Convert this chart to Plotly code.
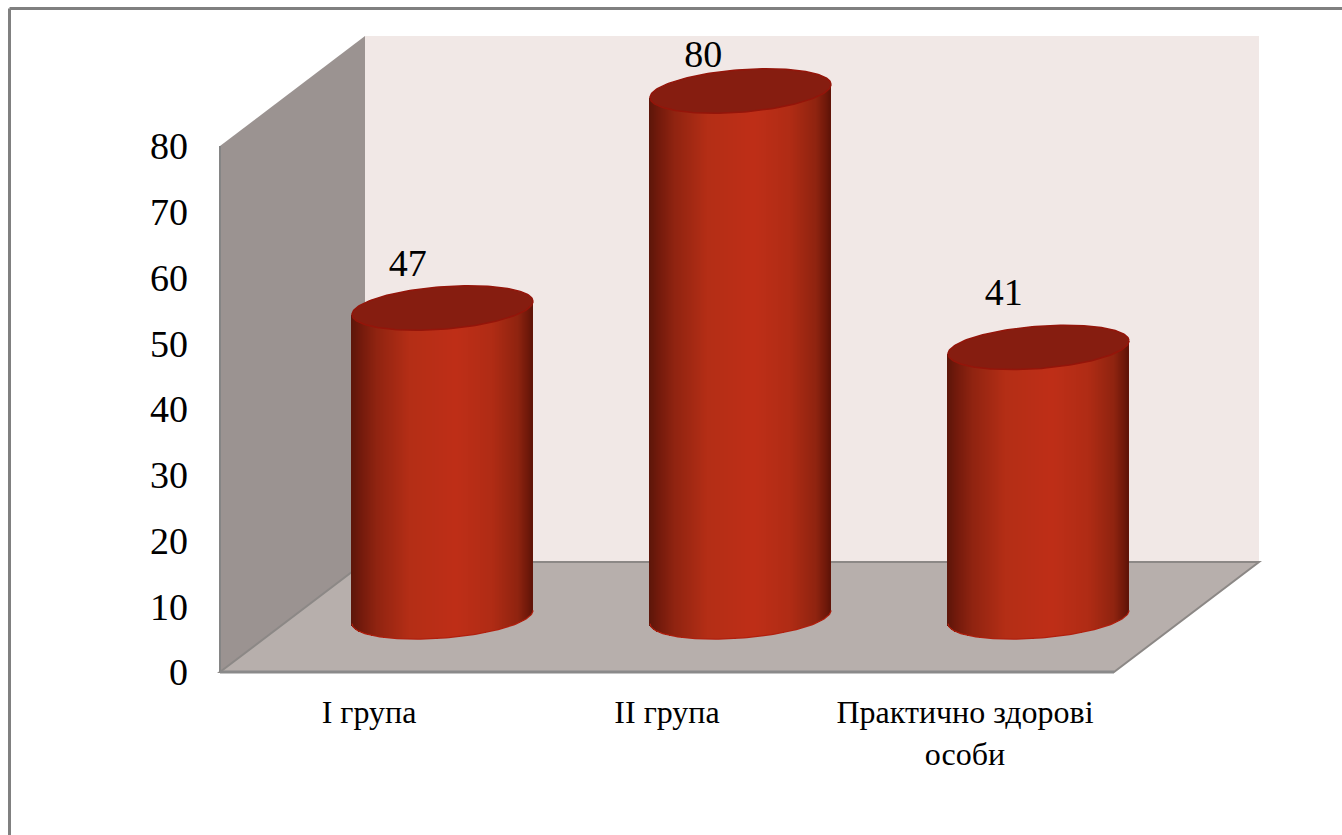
import numpy as np
import plotly.graph_objects as go

categories = ["I група", "II група", "Практично здорові<br>особи"]
values = [47, 80, 41]
y_ticks = [0, 10, 20, 30, 40, 50, 60, 70, 80]

# label placement (offsets relative to the bar value, axis units)
label_rise = [14.6, 13.5, 16.3]
label_shift = [0.13, 0.122, 0.13]

SERIF = "Liberation Serif, Times New Roman, serif"
W, H = 1342, 835
PX_X = 298.0    # pixels per category
PX_Y = 6.575    # pixels per value unit
L, B = 217, 150
XMIN = -3 / PX_X
YMIN = -13 / PX_Y
YMAX = YMIN + (H - B) / PX_Y
XMAX = XMIN + (W - L) / PX_X
DX, DY = 145 / PX_X, 110 / PX_Y   # oblique depth of the box
A = 90.5 / PX_X      # cylinder half width
BB = 21.2 / PX_Y     # ellipse half height
TILT = 6.6 / PX_Y    # rise of the ellipse across its half width
NUDGE = 1 / PX_X

fig = go.Figure()


def poly(xs, ys):
    return "M" + " L".join(f"{x:.5f},{y:.4f}" for x, y in zip(xs, ys)) + " Z"


ytop = y_ticks[-1]
n = len(categories)
fx0 = (9.5 - L) / (W - L)
fy = (H - B - 8.5) / (H - B)
shapes = [
    dict(type="path", xref="x", yref="y", layer="below", line=dict(width=0), fillcolor="#f1e8e6",
         path=poly([DX, n + DX, n + DX, DX], [DY, DY, ytop + DY, ytop + DY])),
    dict(type="path", xref="x", yref="y", layer="below", line=dict(width=0), fillcolor="#9b9391",
         path=poly([0, DX, DX, 0], [0, DY, ytop + DY, ytop])),
    dict(type="path", xref="x", yref="y", layer="below", line=dict(width=2, color="#8c8886"), fillcolor="#b7afac",
         path=poly([0, n, n + DX, DX], [0, 0, DY, DY])),
    dict(type="line", xref="x", yref="y", layer="below", x0=0, x1=0, y0=0, y1=ytop,
         line=dict(width=2, color="#858585")),
    dict(type="line", xref="x", yref="y", layer="below", x0=0, x1=n, y0=0, y1=0,
         line=dict(width=3, color="#8a8a8a")),
    # page frame: only the top and left rules exist
    dict(type="line", xref="paper", yref="paper", x0=fx0, x1=1, y0=fy, y1=fy,
         line=dict(width=3, color="#808080")),
    dict(type="line", xref="paper", yref="paper", x0=fx0, x1=fx0, y0=fy, y1=-B / (H - B),
         line=dict(width=3, color="#808080")),
]

# cylinder bodies: narrow bars carrying the horizontal shading
stops = np.array([0.0, 0.05, 0.14, 0.32, 0.58, 0.78, 0.92, 0.975, 1.0])
reds = np.array([0x5c, 0x72, 0x90, 0xb4, 0xbf, 0xb0, 0x90, 0x72, 0x60])
greens = np.array([0x16, 0x1a, 0x24, 0x2e, 0x2f, 0x2c, 0x24, 0x1a, 0x14])
blues = np.array([0x0a, 0x0c, 0x11, 0x16, 0x18, 0x15, 0x10, 0x0b, 0x08])

strip = 1 / PX_X
bx, bbase, bh, bc = [], [], [], []
for i, v in enumerate(values):
    cx = i + 0.5 + DX / 2 + NUDGE
    offs = np.arange(-A + strip / 2, A, strip)
    for d in offs:
        u = d / A
        s = np.sqrt(max(0.0, 1 - u * u))
        bot = DY / 2 + TILT * u - BB * s
        top = DY / 2 + v + TILT * u
        t = (u + 1) / 2
        c = (int(np.interp(t, stops, reds)), int(np.interp(t, stops, greens)), int(np.interp(t, stops, blues)))
        bx.append(cx + d)
        bbase.append(bot)
        bh.append(top - bot)
        bc.append("rgb(%d,%d,%d)" % c)

fig.add_trace(go.Bar(x=bx, y=bh, base=bbase, width=strip * 1.25,
                     marker=dict(color=bc, line=dict(width=0)),
                     hoverinfo="skip", showlegend=False))

# ellipses: top cap and lower rim
theta = np.linspace(0, 2 * np.pi, 181)
half = np.linspace(np.pi, 2 * np.pi, 91)
for i, v in enumerate(values):
    cx = i + 0.5 + DX / 2 + NUDGE
    fig.add_trace(go.Scatter(
        x=cx + A * np.cos(theta),
        y=DY / 2 + v + TILT * np.cos(theta) + BB * np.sin(theta),
        mode="lines", fill="toself", fillcolor="#861d10",
        line=dict(color="#94150a", width=1.5), hoverinfo="skip", showlegend=False))
    fig.add_trace(go.Scatter(
        x=cx + A * np.cos(half),
        y=DY / 2 + TILT * np.cos(half) + BB * np.sin(half),
        mode="lines", line=dict(color="#b0200f", width=1.2), hoverinfo="skip", showlegend=False))

# data labels
fig.add_trace(go.Scatter(
    x=[i + s + 0.5 for i, s in enumerate(label_shift)],
    y=[v + r for v, r in zip(values, label_rise)],
    text=[str(v) for v in values], mode="text", textposition="middle center",
    textfont=dict(family=SERIF, size=38, color="#000000"),
    hoverinfo="skip", showlegend=False))

fig.update_layout(
    width=W, height=H, margin=dict(l=L, r=0, t=0, b=B),
    paper_bgcolor="white", plot_bgcolor="white", barmode="overlay", bargap=0,
    shapes=shapes, showlegend=False,
    xaxis=dict(range=[XMIN, XMAX], tickmode="array", tickvals=[i + 0.5 for i in range(n)], ticktext=categories,
               showgrid=False, zeroline=False, showline=False, ticks="", ticklabelstandoff=5,
               tickangle=0, tickfont=dict(family=SERIF, size=32, color="#000000"), fixedrange=True),
    yaxis=dict(range=[YMIN, YMAX], tickmode="array", tickvals=y_ticks, ticktext=[str(t) for t in y_ticks],
               showgrid=False, zeroline=False, showline=False, ticks="", ticklabelstandoff=28,
               tickfont=dict(family=SERIF, size=38, color="#000000"), fixedrange=True),
)

fig.write_html("out.html", config=dict(displayModeBar=False),
               post_script="document.body.style.margin='0';")
